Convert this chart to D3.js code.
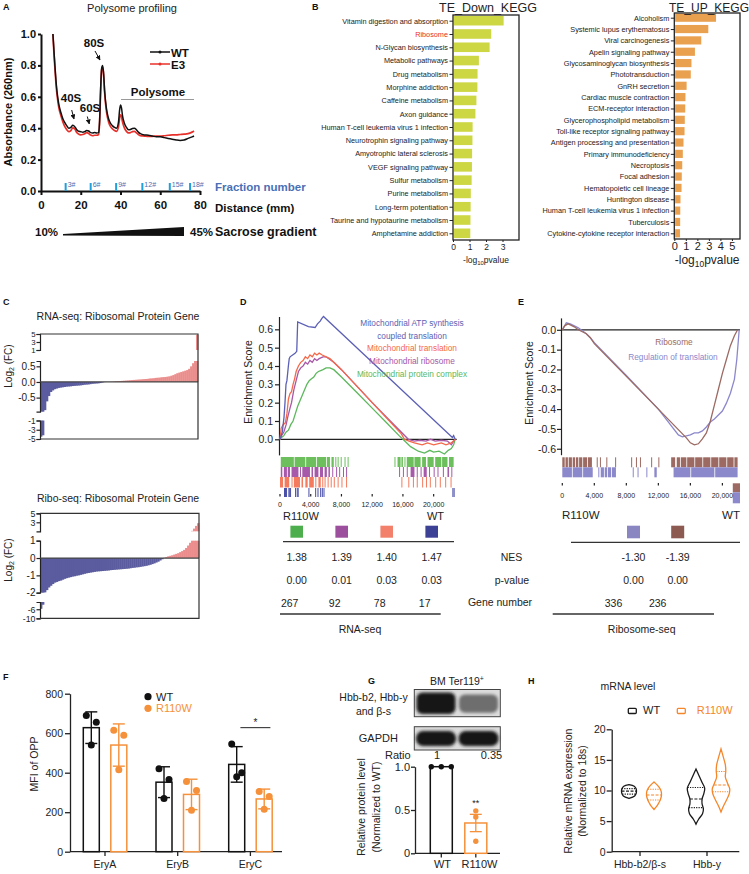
<!DOCTYPE html>
<html><head><meta charset="utf-8"><title>Figure</title>
<script src="https://cdn.jsdelivr.net/npm/d3@7/dist/d3.min.js"></script>
<style>html,body{margin:0;padding:0;background:#fff;}svg{display:block;}</style>
</head><body>
<script>
// ---------------- DATA ----------------
// A: polysome profiling
const polyDistance = [6,6.5,7,7.5,8,8.5,9,10,11,12,13,14,15,16,17,18,19,20,21,22,23,24,25,26,27,28,29,29.5,30,30.5,31,31.5,32,33,34,35,36,37,38,39,39.5,40,40.5,41,42,43,44,45,46,47,48,49,50,52,54,56,58,60,62,64,66,68,70,72,74,76,77];
const polyWT = [1.00,0.90,0.80,0.71,0.64,0.59,0.55,0.50,0.46,0.435,0.415,0.40,0.405,0.418,0.41,0.39,0.38,0.378,0.375,0.378,0.386,0.382,0.372,0.37,0.372,0.37,0.372,0.45,0.65,0.78,0.80,0.75,0.64,0.52,0.46,0.43,0.415,0.405,0.40,0.44,0.51,0.548,0.53,0.48,0.43,0.405,0.39,0.392,0.398,0.40,0.39,0.375,0.365,0.357,0.355,0.35,0.345,0.345,0.34,0.335,0.33,0.325,0.322,0.325,0.335,0.345,0.35];
const polyE3 = [1.0,0.88,0.78,0.69,0.62,0.57,0.53,0.48,0.44,0.41,0.39,0.378,0.385,0.402,0.395,0.372,0.362,0.358,0.36,0.365,0.372,0.366,0.356,0.352,0.355,0.355,0.36,0.44,0.63,0.77,0.79,0.74,0.63,0.50,0.44,0.41,0.395,0.385,0.38,0.41,0.46,0.485,0.475,0.44,0.40,0.38,0.37,0.372,0.378,0.38,0.37,0.36,0.352,0.35,0.348,0.348,0.35,0.35,0.352,0.355,0.357,0.358,0.36,0.362,0.365,0.375,0.382];
const fractionPos = [12.4,25,37.8,51,64.8,75];
const fractionLabels = ['3#','6#','9#','12#','15#','18#'];
const absTicks = [0,0.2,0.4,0.6,0.8,1.0];
const distTicks = [0,20,40,60,80];

// B: KEGG
const downTerms = ["Vitamin digestion and absorption","Ribosome","N-Glycan biosynthesis","Metabolic pathways","Drug metabolism","Morphine addiction","Caffeine metabolism","Axon guidance","Human T-cell leukemia virus 1 infection","Neurotrophin signaling pathway","Amyotrophic lateral sclerosis","VEGF signaling pathway","Sulfur metabolism","Purine metabolism","Long-term potentiation","Taurine and hypotaurine metabolism","Amphetamine addiction"];
const downVals = [3.02,2.27,2.17,1.52,1.44,1.43,1.37,1.31,1.14,1.13,1.11,1.10,1.08,1.03,1.02,1.01,1.00];
const upTerms = ["Alcoholism","Systemic lupus erythematosus","Viral carcinogenesis","Apelin signaling pathway","Glycosaminoglycan biosynthesis","Phototransduction","GnRH secretion","Cardiac muscle contraction","ECM-receptor interaction","Glycerophospholipid metabolism","Toll-like receptor signaling pathway","Antigen processing and presentation","Primary immunodeficiency","Necroptosis","Focal adhesion","Hematopoietic cell lineage","Huntington disease","Human T-cell leukemia virus 1 infection","Tuberculosis","Cytokine-cytokine receptor interaction"];
const upVals = [3.55,2.88,2.27,1.72,1.42,1.36,1.00,0.90,0.88,0.84,0.82,0.73,0.67,0.62,0.58,0.56,0.47,0.45,0.44,0.43];
const downTicks = [0,1,2,3];
const upTicks = [0,1,2,3,4,5];

// C: ribosomal protein gene log2FC (sorted)
const rnaFC = [-4.5,-4.2,-0.9,-0.62,-0.45,-0.32,-0.27,-0.23,-0.21,-0.19,-0.18,-0.17,-0.16,-0.15,-0.145,-0.14,-0.13,-0.125,-0.12,-0.115,-0.11,-0.10,-0.09,-0.085,-0.08,-0.07,-0.06,-0.055,-0.05,-0.045,-0.035,-0.02,-0.005,0,0,0,0.005,0.01,0.02,0.025,0.03,0.035,0.04,0.045,0.05,0.055,0.06,0.065,0.07,0.075,0.08,0.085,0.09,0.095,0.10,0.11,0.115,0.12,0.13,0.135,0.14,0.15,0.155,0.16,0.17,0.18,0.20,0.22,0.25,0.28,0.30,0.32,0.34,0.36,0.38,0.42,0.50,0.60,0.75,4.8];
const riboFC = [-5.8,-4.0,-1.98,-1.85,-1.7,-1.6,-1.5,-1.42,-1.38,-1.33,-1.3,-1.25,-1.2,-1.16,-1.13,-1.1,-1.07,-1.05,-1.02,-1.0,-0.97,-0.94,-0.91,-0.88,-0.86,-0.84,-0.82,-0.8,-0.78,-0.77,-0.76,-0.75,-0.74,-0.73,-0.72,-0.7,-0.69,-0.68,-0.67,-0.66,-0.65,-0.64,-0.63,-0.62,-0.61,-0.59,-0.57,-0.56,-0.54,-0.53,-0.51,-0.49,-0.47,-0.45,-0.42,-0.39,-0.35,-0.31,-0.26,-0.21,-0.14,-0.07,0.02,0.06,0.10,0.13,0.16,0.20,0.24,0.28,0.34,0.40,0.47,0.58,0.72,0.88,1.1,1.6,2.2,2.8];

// D: GSEA RNA-seq  [rank, ES]
const esATP = [[0,0],[300,0.04],[520,0.12],[650,0.2],[780,0.3],[900,0.32],[1090,0.4],[1200,0.44],[1310,0.45],[1960,0.47],[2180,0.48],[2300,0.64],[3700,0.615],[4570,0.61],[4880,0.63],[5230,0.645],[5450,0.66],[5660,0.67],[22440,0.01],[22600,0.02],[22800,0]];
const esTransl = [[0,0],[150,0.06],[400,0.08],[700,0.09],[900,0.14],[1100,0.22],[1300,0.25],[1500,0.26],[1700,0.3],[1900,0.33],[2100,0.37],[2400,0.4],[2700,0.42],[3000,0.43],[3300,0.45],[3600,0.44],[3900,0.46],[4200,0.45],[4500,0.47],[4800,0.46],[5100,0.47],[5500,0.46],[6000,0.45],[6500,0.44],[7000,0.42],[8000,0.38],[10000,0.29],[12000,0.2],[14000,0.11],[15800,0.03],[16200,0.0],[16800,-0.01],[17500,-0.02],[18500,-0.03],[19200,-0.02],[20000,-0.03],[21000,-0.02],[21600,-0.03],[22300,-0.02],[22800,0]];
const esRibo = [[0,0],[200,0.02],[500,0.04],[800,0.08],[1000,0.12],[1300,0.17],[1500,0.2],[1800,0.27],[2100,0.32],[2400,0.37],[2700,0.39],[3000,0.4],[3300,0.42],[3600,0.41],[3900,0.43],[4200,0.42],[4500,0.44],[4800,0.43],[5100,0.44],[5600,0.45],[6000,0.45],[6500,0.435],[7000,0.42],[8000,0.38],[10000,0.29],[12000,0.2],[14000,0.115],[16000,0.03],[16700,0.0],[17500,-0.01],[18200,-0.005],[19000,-0.01],[19600,0.0],[20200,-0.01],[21000,-0.005],[21800,-0.01],[22300,-0.03],[22600,-0.01],[22800,0]];
const esComplex = [[0,0],[200,0.01],[500,0.02],[800,0.04],[1100,0.05],[1400,0.08],[1700,0.1],[2000,0.14],[2300,0.18],[2600,0.21],[2900,0.24],[3200,0.27],[3500,0.3],[3800,0.32],[4100,0.33],[4400,0.34],[4700,0.36],[5000,0.37],[5300,0.375],[5600,0.38],[6000,0.39],[6500,0.39],[7000,0.38],[8000,0.34],[10000,0.255],[12000,0.17],[14000,0.085],[15500,0.02],[16000,0.0],[17000,-0.04],[18000,-0.065],[18800,-0.075],[19500,-0.06],[20000,-0.07],[20700,-0.065],[21400,-0.08],[21900,-0.06],[22300,-0.05],[22600,-0.03],[22800,0]];
// hit intervals [start, end] in rank
const hitsComplex = [[100,1800],[1900,3300],[3400,4700],[4800,6000],[6100,6500],[6700,7000],[7200,7300],[7500,7600],[7900,8000],[8400,8500],[8800,8900],[14900,14960],[15300,15700],[15800,16000],[16200,16300],[16500,17400],[17500,18300],[18500,19000],[19200,20000],[20200,21000],[21100,21800],[22000,22600]];
const hitsRibo = [[100,300],[500,900],[1000,1300],[1500,2400],[2600,2700],[2900,3900],[4100,4300],[4500,5000],[5200,5600],[5800,6100],[6300,6500],[6800,6900],[7300,7400],[7700,7800],[8200,8300],[8600,8700],[15500,15600],[16000,16100],[16500,16600],[17000,17500],[17800,17900],[18300,18400],[18700,19100],[19400,19500],[20000,20100],[20500,20600],[21200,21300],[21800,22000],[22300,22400]];
const hitsTransl = [[0,400],[600,1200],[1500,1600],[1800,2600],[2800,3000],[3300,3600],[3800,4400],[4600,4700],[5000,5300],[5500,5600],[5800,5900],[6200,6300],[6600,6700],[7000,7100],[7500,7600],[8000,8100],[8600,8700],[15800,15900],[16700,16800],[17300,17400],[17800,17900],[18500,18600],[19000,19100],[19500,19600],[20200,20300],[20800,20900],[21500,21600],[22200,22300]];
const hitsATP = [[523,560],[650,690],[784,820],[1090,1130],[1200,1240],[1307,1345],[1960,2000],[2178,2215],[2300,2340],[3700,3740],[4574,4610],[4880,4920],[5227,5265],[5445,5480],[5662,5700],[22440,22480],[22600,22640]];
const rankTicksD = [0,4000,8000,12000,16000,20000];

// E: GSEA Ribosome-seq
const esRiboE = [[0,0],[300,0.02],[700,0.03],[1000,0.025],[1500,0.015],[2000,0.0],[2500,-0.01],[3000,-0.02],[3500,-0.04],[4000,-0.07],[8000,-0.235],[12000,-0.4],[15500,-0.545],[16000,-0.57],[16500,-0.58],[17000,-0.575],[17500,-0.55],[18000,-0.52],[18500,-0.46],[19000,-0.38],[19500,-0.3],[20000,-0.22],[20500,-0.15],[21000,-0.08],[21500,-0.03],[21900,0.0]];
const esRegE = [[0,0],[500,0.035],[1000,0.03],[1500,0.02],[2000,0.01],[2500,-0.005],[3000,-0.02],[3500,-0.04],[4000,-0.065],[8000,-0.23],[12000,-0.4],[14500,-0.53],[15000,-0.54],[15500,-0.535],[16000,-0.53],[16500,-0.52],[17000,-0.52],[17500,-0.51],[18000,-0.49],[18500,-0.465],[19000,-0.45],[19500,-0.43],[20000,-0.41],[20500,-0.37],[21000,-0.32],[21500,-0.25],[21800,-0.15],[22000,-0.05],[22100,0]];
const hitsRiboE = [[0,300],[400,700],[800,1200],[1300,1600],[1700,2000],[2100,2500],[2600,3100],[3200,3700],[4300,4400],[4700,4800],[5500,5600],[6600,6700],[8600,8700],[9200,9300],[9700,9800],[11100,11200],[12000,12100],[13600,14100],[14300,14700],[14800,15500],[15600,16500],[16600,17500],[17600,18500],[18600,19500],[19600,20500],[20600,21400],[21500,21900]];
const hitsRegE = [[0,1200],[1300,2500],[2600,3800],[4500,4600],[4800,5200],[5300,5600],[5700,6100],[6200,6700],[8800,8900],[9400,9500],[10500,10600],[11500,11800],[13900,16000],[16100,19000],[19100,21900]];
const hitsTailE = [[21300,22200]];
const rankTicksE = [0,4000,8000,12000,16000,20000];

// table
const rnaSets = ['Mitochondrial protein complex','Mitochondrial ribosome','Mitochondrial translation','Mitochondrial ATP synthesis coupled translation'];
const rnaNES = [1.38,1.39,1.40,1.47];
const rnaP = [0.00,0.01,0.03,0.03];
const rnaGenes = [267,92,78,17];
const riboSets = ['Regulation of translation','Ribosome'];
const riboNES = [-1.30,-1.39];
const riboP = [0.00,0.00];
const riboGenes = [336,236];

// F: OPP MFI
const eryGroups = ['EryA','EryB','EryC'];
const fWTmean = [628,352,442];
const fWTsd = [80,78,90];
const fWTpts = [[690,655,540],[420,365,270],[545,400,380]];
const fMUTmean = [540,290,267];
const fMUTsd = [107,77,50];
const fMUTpts = [[615,590,415],[355,310,210],[305,280,215]];
const fTicks = [0,200,400,600,800];

// G: western blot
const gGroups = ['WT','R110W'];
const gRatio = [1,0.35];
const gMean = [1.0,0.35];
const gSD = [0,0.1];
const gPts = [[1,1,1],[0.49,0.42,0.14]];
const gTicks = [0,0.5,1.0];

// H: mRNA violins  [value, relative density]
const hGenes = ['Hbb-b2/β-s','Hbb-y'];
const hViolinWT = [
  [[8.7,0],[9.1,0.65],[9.5,0.82],[9.9,0.86],[10.3,0.82],[10.7,0.6],[10.95,0]],
  [[4.5,0],[5.3,0.3],[6.2,0.75],[7.0,0.85],[7.8,0.7],[8.6,0.7],[9.5,0.9],[10.4,1],[11.3,0.7],[12.4,0.35],[13.5,0]]
];
const hViolinMUT = [
  [[6.9,0],[7.4,0.3],[7.9,0.52],[8.5,0.73],[9.2,0.86],[9.9,0.82],[10.5,0.6],[11.0,0.3],[11.4,0]],
  [[6.5,0],[7.5,0.3],[8.5,0.65],[9.5,0.95],[10.3,1],[11.2,0.75],[12.2,0.5],[13.2,0.55],[14.2,0.5],[15.3,0.3],[16.8,0]]
];
const hQuartWT = [[9.4,9.9,10.3],[7.2,8.6,10.5]];
const hQuartMUT = [[8.45,9.27,10.2],[9.8,10.9,13.1]];
const hTicks = [0,5,10,15,20];

// ---------------- DRAWING ----------------
const FONT = '"Liberation Sans", Arial, Helvetica, sans-serif';
const INK = '#222';
const svg = d3.select('body').append('svg').attr('width',749).attr('height',874).attr('font-family',FONT);
svg.append('rect').attr('width',749).attr('height',874).attr('fill','#fff');
const defs = svg.append('defs');
defs.append('marker').attr('id','arr').attr('viewBox','0 0 10 10').attr('refX',9).attr('refY',5)
  .attr('markerWidth',5).attr('markerHeight',5).attr('orient','auto')
  .append('path').attr('d','M0,0L10,5L0,10z').attr('fill','#111');
defs.append('filter').attr('id','blur').attr('x','-30%').attr('y','-60%').attr('width','160%').attr('height','220%')
  .append('feGaussianBlur').attr('stdDeviation',1.8);

function T(g,x,y,s,o={}){
  const t=g.append('text').attr('x',x).attr('y',y).attr('font-size',o.size||10)
    .attr('fill',o.fill||INK).attr('text-anchor',o.anchor||'start')
    .attr('font-weight',o.weight||'normal');
  if(o.rot) t.attr('transform',`rotate(-90 ${x} ${y})`);
  if(s!=null) t.text(s);
  return t;
}
function axisStyle(sel,o={}){
  sel.attr('font-family',FONT).attr('font-size',o.size||10).attr('font-weight',o.weight||'normal');
  sel.selectAll('path,line').attr('stroke',o.color||INK).attr('stroke-width',o.sw||1);
  sel.selectAll('text').attr('fill',o.color||INK);
  return sel;
}
function subLabel(g,x,y,pre,sub,post,o){
  const t=T(g,x,y,null,o);
  t.append('tspan').text(pre);
  t.append('tspan').text(sub).attr('font-size',(o.size||10)*0.7).attr('dy',o.size*0.25);
  t.append('tspan').text(post).attr('dy',-o.size*0.25);
  return t;
}

// panel letters
[['A',3,10],['B',312,10],['C',3,305],['D',240,305],['E',518,305],['F',3,680],['G',368,684],['H',528,684]]
  .forEach(([s,x,y])=>T(svg,x,y,s,{size:9,weight:'bold',fill:'#111'}));

// ===== A =====
(function(){
  const g=svg.append('g');
  const ax=d3.scaleLinear().domain([0,80]).range([41,200]);
  const ay=d3.scaleLinear().domain([0,1]).range([191,34]);
  T(g,132,12,'Polysome profiling',{size:11,anchor:'middle'});
  axisStyle(g.append('g').attr('transform','translate(0,191)')
    .call(d3.axisBottom(ax).tickValues(distTicks).tickSize(4).tickSizeOuter(0).tickPadding(6)),{size:11.5,weight:'bold',sw:2,color:'#111'});
  axisStyle(g.append('g').attr('transform','translate(41,0)')
    .call(d3.axisLeft(ay).tickValues(absTicks).tickFormat(d=>d.toFixed(1)).tickSize(3).tickSizeOuter(0).tickPadding(2)),{size:11,weight:'bold',sw:2,color:'#111'});
  T(g,12,112,'Absorbance (260nm)',{size:11,weight:'bold',anchor:'middle',rot:true,fill:'#111'});
  g.selectAll('.fr').data(fractionPos).join('line').attr('x1',d=>ax(d)).attr('x2',d=>ax(d))
    .attr('y1',183).attr('y2',191).attr('stroke','#1fa0dc').attr('stroke-width',2);
  g.selectAll('.frl').data(fractionLabels).join('text').attr('x',(d,i)=>ax(fractionPos[i])+2).attr('y',187)
    .text(d=>d).attr('font-size',7).attr('fill','#4a6fb5');
  T(g,215,191,'Fraction number',{size:11.5,weight:'bold',fill:'#4a6fb5'});
  T(g,215,212,'Distance (mm)',{size:11.5,weight:'bold',fill:'#111'});
  const line=d3.line().x((d,i)=>ax(polyDistance[i])).y(d=>ay(d)).curve(d3.curveMonotoneX);
  g.append('path').attr('d',line(polyE3)).attr('fill','none').attr('stroke','#e8302a').attr('stroke-width',1.7);
  g.append('path').attr('d',line(polyWT)).attr('fill','none').attr('stroke','#111').attr('stroke-width',1.5);
  [['WT','#111',52],['E3','#e8302a',64]].forEach(([s,c,y])=>{
    g.append('line').attr('x1',150).attr('x2',170).attr('y1',y).attr('y2',y).attr('stroke',c).attr('stroke-width',1.5);
    g.append('circle').attr('cx',160).attr('cy',y).attr('r',1.5).attr('fill',c);
    T(g,171,y+4.5,s,{size:11.5,weight:'bold',fill:'#111'});
  });
  T(g,94,47,'80S',{size:11.5,weight:'bold',anchor:'middle',fill:'#111'});
  g.append('line').attr('x1',95).attr('y1',51).attr('x2',100).attr('y2',60).attr('stroke','#111').attr('marker-end','url(#arr)');
  T(g,71,102,'40S',{size:11.5,weight:'bold',anchor:'middle',fill:'#111'});
  g.append('line').attr('x1',71.7).attr('y1',110).attr('x2',74).attr('y2',119).attr('stroke','#111').attr('marker-end','url(#arr)');
  T(g,90,112,'60S',{size:11.5,weight:'bold',anchor:'middle',fill:'#111'});
  g.append('line').attr('x1',87.3).attr('y1',116.5).attr('x2',89.3).attr('y2',124).attr('stroke','#111').attr('marker-end','url(#arr)');
  T(g,158,96,'Polysome',{size:11.5,weight:'bold',anchor:'middle',fill:'#111'});
  g.append('line').attr('x1',121).attr('x2',194).attr('y1',99.5).attr('y2',99.5).attr('stroke','#999').attr('stroke-width',1);
  T(g,35,236,'10%',{size:11.5,weight:'bold',fill:'#111'});
  g.append('path').attr('d','M63,234L184,227L184,236L63,235.5Z').attr('fill','#111');
  T(g,190,236,'45%',{size:11.5,weight:'bold',fill:'#111'});
  T(g,215,236,'Sacrose gradient',{size:12.5,weight:'bold',fill:'#111'});
})();

// ===== B =====
function kegg(terms,vals,c){
  const g=svg.append('g');
  const x=d3.scaleLinear().domain([0,c.xmax]).range([c.x0,c.x1]);
  const y=d3.scalePoint().domain(terms).range([c.yc0,c.yc1]);
  const bh=y.step()*0.72;
  g.selectAll(null).data(terms).join('rect').attr('x',x(0)+0.8).attr('y',d=>y(d)-bh/2)
    .attr('width',(d,i)=>x(vals[i])-x(0)).attr('height',bh).attr('fill',c.color);
  g.append('rect').attr('x',c.x0).attr('y',c.top).attr('width',c.x1-c.x0).attr('height',c.bottom-c.top)
    .attr('fill','none').attr('stroke','#222').attr('stroke-width',1.3);
  const ya=g.append('g').attr('transform',`translate(${c.x0},0)`).call(d3.axisLeft(y).tickSize(3.5).tickPadding(1.5));
  ya.select('.domain').remove();
  axisStyle(ya,{size:c.labSize,color:'#222'});
  ya.selectAll('text').attr('fill',d=>d==='Ribosome'&&c.highlight?'#e8302a':'#222');
  const xa=g.append('g').attr('transform',`translate(0,${c.bottom})`)
    .call(d3.axisBottom(x).tickValues(c.ticks).tickFormat(d3.format('d')).tickSize(2).tickSizeOuter(0).tickPadding(1.5));
  xa.select('.domain').remove();
  axisStyle(xa,{size:c.tickSize});
  T(g,c.titleX,12,c.title,{size:c.titleSize,anchor:'middle'});
  subLabel(g,(c.x0+c.x1)/2,c.labY,'-log','10','pvalue',{size:c.axSize,anchor:'middle'});
}
kegg(downTerms,downVals,{xmax:4,x0:453,x1:519,yc0:20.7,yc1:233.3,top:15,bottom:240,color:'#cdd643',labSize:7.3,
  ticks:downTicks,tickSize:8.5,axSize:8.5,labY:263,title:'TE_Down_KEGG',titleX:488,titleSize:12.5,highlight:true});
kegg(upTerms,upVals,{xmax:5.7,x0:674.3,x1:740,yc0:17.7,yc1:233.3,top:13,bottom:239,color:'#e9a14f',labSize:7.3,
  ticks:upTicks,tickSize:11,axSize:12,labY:264,title:'TE_UP_KEGG',titleX:709,titleSize:12,highlight:false});

// ===== C =====
function broken(vals,c){
  const g=svg.append('g');
  const xb=d3.scaleBand().domain(d3.range(vals.length)).range([c.x0,c.x1]).padding(0);
  c.segs.forEach(s=>{
    const y=d3.scaleLinear().domain(s.domain).range(s.range);
    const [lo,hi]=s.domain;
    const bars=vals.map((v,i)=>{
      let a,b;
      if(lo<0&&hi>0){a=0;b=Math.max(lo,Math.min(hi,v));}
      else if(lo>=0){if(v<=lo)return null;a=lo;b=Math.min(v,hi);}
      else{if(v>=hi)return null;a=hi;b=Math.max(v,lo);}
      return {i,v,a,b};
    }).filter(d=>d&&d.a!==d.b);
    g.selectAll(null).data(bars).join('rect').attr('x',d=>xb(d.i)).attr('width',xb.bandwidth()+0.4)
      .attr('y',d=>Math.min(y(d.a),y(d.b))).attr('height',d=>Math.abs(y(d.a)-y(d.b)))
      .attr('fill',d=>d.v<0?c.neg:c.pos);
    axisStyle(g.append('g').attr('transform',`translate(${c.x0},0)`)
      .call(d3.axisLeft(y).tickValues(s.ticks).tickFormat((d,i)=>s.labels[i]).tickSize(3.5).tickSizeOuter(3.5).tickPadding(1)),
      {size:s.fs||10,sw:1.2});
  });
  const mid=c.segs[1];const ym=d3.scaleLinear().domain(mid.domain).range(mid.range);
  g.append('line').attr('x1',c.x0).attr('x2',c.x1).attr('y1',ym(0)).attr('y2',ym(0)).attr('stroke','#444').attr('stroke-width',1.2);
  g.append('path').attr('d',`M${c.x0},${c.top}H${c.x1}V${c.bottom}H${c.x0}`).attr('fill','none').attr('stroke','#333').attr('stroke-width',1.2);
  T(g,118,c.titleY,c.title,{size:10.5,anchor:'middle'});
  subLabel(g,11.5,c.labY,'Log','2',' (FC)',{size:10,anchor:'middle',rot:true});
}
broken(rnaFC,{x0:40,x1:198,top:334,bottom:439,neg:'#5a5c9f',pos:'#ea8d8c',title:'RNA-seq: Ribosomal Protein Gene',titleY:320,labY:366,
  segs:[{domain:[1,5],range:[350,334],ticks:[1,3,5],labels:['1','3','5'],fs:7.8},
        {domain:[-0.95,0.67],range:[411.7,361],ticks:[-0.5,0,0.5],labels:['-0.5','0.0','0.5']},
        {domain:[-5,-1],range:[439,420.5],ticks:[-5,-3,-1],labels:['-5','-3','-1'],fs:8.2}]});
broken(riboFC,{x0:40,x1:199,top:513.3,bottom:618.3,neg:'#5a5c9f',pos:'#ea8d8c',title:'Ribo-seq: Ribosomal Protein Gene',titleY:502,labY:560,
  segs:[{domain:[1,5],range:[531.3,513.3],ticks:[3,5],labels:['3','5'],fs:8.8},
        {domain:[-2,1],range:[592.7,540.7],ticks:[-2,-1,0,1],labels:['-2','-1','0','1']},
        {domain:[-10,-2.8],range:[618.3,602],ticks:[-10,-6],labels:['-10','-6'],fs:8.8}]});

// ===== D =====
(function(){
  const g=svg.append('g');
  const x=d3.scaleLinear().domain([0,23000]).range([280,456.7]);
  const y=d3.scaleLinear().domain([-0.085,0.67]).range([454.9,316.5]);
  axisStyle(g.append('g').attr('transform','translate(279,0)')
    .call(d3.axisLeft(y).tickValues([0,0.1,0.2,0.3,0.4,0.5,0.6]).tickFormat(d=>d.toFixed(1)).tickSize(4).tickSizeOuter(0).tickPadding(2)),{size:10.5,sw:1.2});
  g.append('line').attr('x1',279).attr('x2',456.7).attr('y1',y(0)).attr('y2',y(0)).attr('stroke','#222').attr('stroke-width',1.2);
  T(g,252,382,'Enrichment Score',{size:10.5,anchor:'middle',rot:true});
  const sets=[[esComplex,'#5cb85c'],[esRibo,'#a757a6'],[esTransl,'#f5694a'],[esATP,'#5b5fb5']];
  const ln=d3.line().x(d=>x(d[0])).y(d=>y(d[1]));
  sets.forEach(([d,c])=>g.append('path').attr('d',ln(d)).attr('fill','none').attr('stroke',c).attr('stroke-width',1.3));
  const rows=[[hitsComplex,'#6cbf5c',457,467],[hitsRibo,'#a65aa9',467,477],[hitsTransl,'#f47b5e',477,487.5],[hitsATP,'#4a4fa8',488,497]];
  rows.forEach(([h,c,y0,y1])=>g.selectAll(null).data(h).join('rect').attr('x',d=>x(d[0])).attr('width',d=>Math.max(1,x(d[1])-x(d[0])))
    .attr('y',y0).attr('height',y1-y0).attr('fill',c));
  g.selectAll(null).data(rankTicksD).join('line').attr('x1',d=>x(d)).attr('x2',d=>x(d)).attr('y1',494).attr('y2',496.5).attr('stroke','#222').attr('stroke-width',1.2);
  g.selectAll(null).data(rankTicksD).join('text').attr('x',d=>x(d)).attr('y',507).attr('text-anchor','middle')
    .attr('font-size',7).attr('fill','#222').text(d=>d3.format(',')(d));
  [['Mitochondrial ATP synthesis','#5b5fb5',326],['coupled translation','#5b5fb5',339],['Mitochondrial translation','#f5694a',350.7],
   ['Mitochondrial ribosome','#a757a6',364],['Mitochondrial protein complex','#5cb85c',377.3]]
   .forEach(([s,c,yy])=>T(g,412,yy,s,{size:8.3,anchor:'middle',fill:c}));
  T(g,283,520,'R110W',{size:11});
  T(g,444,520,'WT',{size:11,anchor:'end'});
})();

// ===== E =====
(function(){
  const g=svg.append('g');
  const x=d3.scaleLinear().domain([0,22200]).range([562.3,740]);
  const y=d3.scaleLinear().domain([-0.63,0.06]).range([454.7,317.9]);
  axisStyle(g.append('g').attr('transform','translate(561,0)')
    .call(d3.axisLeft(y).tickValues([0,-0.1,-0.2,-0.3,-0.4,-0.5,-0.6]).tickFormat(d=>d.toFixed(1)).tickSize(4).tickSizeOuter(0).tickPadding(1)),{size:10.5,sw:1.2});
  g.append('line').attr('x1',561).attr('x2',740).attr('y1',y(0)).attr('y2',y(0)).attr('stroke','#222').attr('stroke-width',1.2);
  T(g,533,383,'Enrichment Score',{size:10.5,anchor:'middle',rot:true});
  const ln=d3.line().x(d=>x(d[0])).y(d=>y(d[1]));
  g.append('path').attr('d',ln(esRegE)).attr('fill','none').attr('stroke','#8c88cc').attr('stroke-width',1.3);
  g.append('path').attr('d',ln(esRiboE)).attr('fill','none').attr('stroke','#9c6a62').attr('stroke-width',1.3);
  const rows=[[hitsRiboE,'#9c6a62',457.3,467.3],[hitsRegE,'#8c88cc',467.3,477.3],[hitsTailE,'#9c6a62',483.3,492.3],[hitsTailE,'#8c88cc',492.3,503.3]];
  rows.forEach(([h,c,y0,y1])=>g.selectAll(null).data(h).join('rect').attr('x',d=>x(d[0])).attr('width',d=>Math.max(1,x(d[1])-x(d[0])))
    .attr('y',y0).attr('height',y1-y0).attr('fill',c));
  g.selectAll(null).data(rankTicksE).join('line').attr('x1',d=>x(d)).attr('x2',d=>x(d)).attr('y1',483).attr('y2',485.5).attr('stroke','#222').attr('stroke-width',1.2);
  g.selectAll(null).data(rankTicksE).join('text').attr('x',d=>x(d)).attr('y',498).attr('text-anchor','middle')
    .attr('font-size',7).attr('fill','#222').text(d=>d3.format(',')(d));
  T(g,674,344.5,'Ribosome',{size:8.3,anchor:'middle',fill:'#9c6a62'});
  T(g,673,359.5,'Regulation of translation',{size:8.3,anchor:'middle',fill:'#8c88cc'});
  T(g,562,519,'R110W',{size:11.5});
  T(g,740,519,'WT',{size:11.5,anchor:'end'});
})();

// ===== table =====
(function(){
  const g=svg.append('g');
  const rc=d3.scalePoint().domain(rnaSets).range([296.7,431.7]);
  const bc=d3.scalePoint().domain(riboSets).range([633.5,677.7]);
  const rCol={'Mitochondrial protein complex':'#4cae4c','Mitochondrial ribosome':'#9c4f9c','Mitochondrial translation':'#f2806a','Mitochondrial ATP synthesis coupled translation':'#3d4196'};
  const bCol={'Regulation of translation':'#8a86c2','Ribosome':'#8d5a52'};
  rnaSets.forEach((s,i)=>{
    g.append('rect').attr('x',rc(s)-6.3).attr('y',525.7).attr('width',12.6).attr('height',12).attr('fill',rCol[s]);
    T(g,rc(s),561,rnaNES[i].toFixed(2),{size:10.5,anchor:'middle'});
    T(g,rc(s),583.5,rnaP[i].toFixed(2),{size:10.5,anchor:'middle'});
    T(g,rc(s)-7,607,String(rnaGenes[i]),{size:10.5,anchor:'middle'});
  });
  riboSets.forEach((s,i)=>{
    g.append('rect').attr('x',bc(s)-6.5).attr('y',525.7).attr('width',13).attr('height',12.6).attr('fill',bCol[s]);
    T(g,bc(s),561,riboNES[i].toFixed(2),{size:10.5,anchor:'middle'});
    T(g,bc(s),583.5,riboP[i].toFixed(2),{size:10.5,anchor:'middle'});
    T(g,bc(s)-20,607,String(riboGenes[i]),{size:10.5,anchor:'middle'});
  });
  g.append('line').attr('x1',283).attr('x2',454).attr('y1',541.7).attr('y2',541.7).attr('stroke','#333').attr('stroke-width',1.3);
  g.append('line').attr('x1',571).attr('x2',740).attr('y1',542.3).attr('y2',542.3).attr('stroke','#333').attr('stroke-width',1.3);
  g.append('line').attr('x1',280).attr('x2',440.7).attr('y1',614).attr('y2',614).attr('stroke','#333').attr('stroke-width',1.3);
  g.append('line').attr('x1',552.7).attr('x2',714).attr('y1',614).attr('y2',614).attr('stroke','#333').attr('stroke-width',1.3);
  T(g,511.5,561,'NES',{size:10.5,anchor:'middle'});
  T(g,512,583.5,'p-value',{size:10.5,anchor:'middle'});
  T(g,500,606,'Gene number',{size:10.5,anchor:'middle'});
  T(g,360,633,'RNA-seq',{size:10.5,anchor:'middle'});
  T(g,641.7,633,'Ribosome-seq',{size:10.5,anchor:'middle'});
})();

// ===== F =====
(function(){
  const g=svg.append('g');
  const y=d3.scaleLinear().domain([0,800]).range([851.7,693.7]);
  const x=d3.scalePoint().domain(eryGroups).range([105,250.4]);
  axisStyle(g.append('g').attr('transform','translate(70,0)')
    .call(d3.axisLeft(y).tickValues(fTicks).tickSize(5).tickSizeOuter(0).tickPadding(2)),{size:10.5,sw:1.3});
  g.append('line').attr('x1',70).attr('x2',282).attr('y1',851.7).attr('y2',851.7).attr('stroke','#222').attr('stroke-width',1.3);
  eryGroups.forEach(grp=>{
    g.append('line').attr('x1',x(grp)).attr('x2',x(grp)).attr('y1',851.7).attr('y2',856).attr('stroke','#222').attr('stroke-width',1.3);
    T(g,x(grp),868,grp,{size:10.5,anchor:'middle'});
  });
  const series=[{m:fWTmean,sd:fWTsd,p:fWTpts,c:'#111',off:-13.7},{m:fMUTmean,sd:fMUTsd,p:fMUTpts,c:'#f5913a',off:13.8}];
  const jitter=[-5,5,0];
  series.forEach(s=>{
    eryGroups.forEach((grp,i)=>{
      const cx=x(grp)+s.off;
      g.append('rect').attr('x',cx-8).attr('y',y(s.m[i])).attr('width',16).attr('height',851.7-y(s.m[i]))
        .attr('fill','#fff').attr('stroke',s.c).attr('stroke-width',1.5);
      const t=y(s.m[i]+s.sd[i]),b=y(s.m[i]-s.sd[i]);
      g.append('line').attr('x1',cx).attr('x2',cx).attr('y1',t).attr('y2',b).attr('stroke',s.c).attr('stroke-width',1.4);
      [t,b].forEach(yy=>g.append('line').attr('x1',cx-6).attr('x2',cx+6).attr('y1',yy).attr('y2',yy).attr('stroke',s.c).attr('stroke-width',1.4));
      s.p[i].forEach((v,j)=>g.append('circle').attr('cx',cx+jitter[j]).attr('cy',y(v)).attr('r',3.5).attr('fill',s.c));
    });
  });
  const sx=x('EryC');
  g.append('line').attr('x1',sx-10).attr('x2',sx+20).attr('y1',y(628)).attr('y2',y(628)).attr('stroke','#222').attr('stroke-width',1);
  T(g,sx+5,y(628)-2,'*',{size:10,anchor:'middle'});
  T(g,38,764,'MFI of OPP',{size:10.5,anchor:'middle',rot:true});
  g.append('circle').attr('cx',148).attr('cy',696.7).attr('r',3.6).attr('fill','#111');
  T(g,156,700.5,'WT',{size:11});
  g.append('circle').attr('cx',148).attr('cy',708.3).attr('r',3.6).attr('fill','#f5913a');
  T(g,156,712,'R110W',{size:11,fill:'#f5913a'});
})();

// ===== G =====
(function(){
  const g=svg.append('g');
  T(g,457,685,null,{size:10.5,anchor:'middle'}).call(t=>{t.append('tspan').text('BM Ter119');t.append('tspan').text('+').attr('font-size',7).attr('dy',-4);});
  g.append('rect').attr('x',414.3).attr('y',689.5).attr('width',86).attr('height',27.2).attr('fill','#dcdcdc').attr('stroke','#444').attr('stroke-width',1);
  g.append('rect').attr('x',414.3).attr('y',726.7).attr('width',86).attr('height',23.3).attr('fill','#dcdcdc').attr('stroke','#444').attr('stroke-width',1);
  const bx=d3.scalePoint().domain(gGroups).range([436,478.5]);
  const shade=d3.interpolateRgb('#d8d8d8','#161616');
  gGroups.forEach((grp,i)=>{
    g.append('rect').attr('x',bx(grp)-19.5).attr('y',692.5+(1-gRatio[i])*3).attr('width',39).attr('height',21.5-(1-gRatio[i])*5)
      .attr('rx',6).attr('fill',shade(0.3+0.7*gRatio[i])).attr('filter','url(#blur)');
    g.append('rect').attr('x',bx(grp)-20).attr('y',731).attr('width',40).attr('height',15).attr('rx',7).attr('fill','#161616').attr('filter','url(#blur)');
  });
  T(g,373.5,701,'Hbb-b2, Hbb-y',{size:10.5,anchor:'middle'});
  T(g,373.5,715,'and β-s',{size:10.5,anchor:'middle'});
  T(g,378.3,741.5,'GAPDH',{size:11,anchor:'middle'});
  T(g,385,758.5,'Ratio',{size:11});
  gGroups.forEach((grp,i)=>T(g,bx(grp)+(i?13:1),758.5,String(gRatio[i]),{size:11,anchor:'middle'}));
  const y=d3.scaleLinear().domain([0,1]).range([853.3,766.7]);
  const x=d3.scalePoint().domain(gGroups).range([441.3,475.8]);
  axisStyle(g.append('g').attr('transform','translate(415,0)')
    .call(d3.axisLeft(y).tickValues(gTicks).tickFormat(d=>d===0?'0':d.toFixed(1)).tickSize(4).tickSizeOuter(0).tickPadding(1)),{size:11,sw:1.3});
  g.append('line').attr('x1',415).attr('x2',500).attr('y1',853.3).attr('y2',853.3).attr('stroke','#222').attr('stroke-width',1.3);
  const cols=['#111','#f5913a'];
  const jit=[[-10,0,10],[0,0,0]];
  gGroups.forEach((grp,i)=>{
    const cx=x(grp);
    g.append('line').attr('x1',cx).attr('x2',cx).attr('y1',853.3).attr('y2',857.5).attr('stroke','#222').attr('stroke-width',1.3);
    g.append('rect').attr('x',cx-11).attr('y',y(gMean[i])).attr('width',22).attr('height',853.3-y(gMean[i]))
      .attr('fill','#fff').attr('stroke',cols[i]).attr('stroke-width',1.5);
    if(gSD[i]>0){
      const t=y(gMean[i]+gSD[i]),b=y(gMean[i]-gSD[i]);
      g.append('line').attr('x1',cx).attr('x2',cx).attr('y1',t).attr('y2',b).attr('stroke',cols[i]).attr('stroke-width',1.3);
      [t,b].forEach(yy=>g.append('line').attr('x1',cx-6).attr('x2',cx+6).attr('y1',yy).attr('y2',yy).attr('stroke',cols[i]).attr('stroke-width',1.3));
    }
    gPts[i].forEach((v,j)=>g.append('circle').attr('cx',cx+jit[i][j]).attr('cy',y(v)).attr('r',2.7).attr('fill',cols[i]));
    T(g,cx+(i?3.7:1.2),868,grp,{size:11,anchor:'middle'});
  });
  T(g,x('R110W'),806,'**',{size:9,anchor:'middle'});
  T(g,365,807,'Relative protein level',{size:10.5,anchor:'middle',rot:true});
  T(g,380,807,'(Normalized to WT)',{size:10.5,anchor:'middle',rot:true});
})();

// ===== H =====
(function(){
  const g=svg.append('g');
  T(g,628,690,'mRNA level',{size:10.5,anchor:'middle'});
  const y=d3.scaleLinear().domain([0,20]).range([851.7,729.3]);
  const x=d3.scalePoint().domain(hGenes).range([640,707]);
  axisStyle(g.append('g').attr('transform','translate(611.7,0)')
    .call(d3.axisLeft(y).tickValues(hTicks).tickSize(5).tickSizeOuter(0).tickPadding(1)),{size:10.5,sw:1.3});
  g.append('line').attr('x1',611.7).attr('x2',739.3).attr('y1',851.7).attr('y2',851.7).attr('stroke','#222').attr('stroke-width',1.3);
  hGenes.forEach(h=>{
    g.append('line').attr('x1',x(h)).attr('x2',x(h)).attr('y1',851.7).attr('y2',856).attr('stroke','#222').attr('stroke-width',1.3);
    T(g,x(h),868,h,{size:10.5,anchor:'middle'});
  });
  const HW=8.7;
  function dens(arr,v){for(let k=1;k<arr.length;k++){if(v<=arr[k][0]){const [a,da]=arr[k-1],[b,db]=arr[k];return da+(db-da)*(v-a)/(b-a);}}return 0;}
  const groups=[{v:hViolinWT,q:hQuartWT,c:'#1a1a1a',off:-11},{v:hViolinMUT,q:hQuartMUT,c:'#f5862a',off:14}];
  groups.forEach(s=>{
    hGenes.forEach((h,i)=>{
      const cx=x(h)+s.off, arr=s.v[i];
      const area=d3.area().y(d=>y(d[0])).x0(d=>cx-HW*d[1]).x1(d=>cx+HW*d[1]).curve(d3.curveCatmullRom);
      g.append('path').attr('d',area(arr)).attr('fill','#fff').attr('stroke',s.c).attr('stroke-width',1.3);
      s.q[i].forEach((qv,k)=>{
        const w=HW*dens(arr,qv);
        g.append('line').attr('x1',cx-w).attr('x2',cx+w).attr('y1',y(qv)).attr('y2',y(qv)).attr('stroke',s.c)
          .attr('stroke-width',1.1).attr('stroke-dasharray',k===1?'3,1.5':'1.2,1.2');
      });
    });
  });
  g.append('rect').attr('x',628.3).attr('y',708.3).attr('width',8).attr('height',5.2).attr('rx',1).attr('fill','#fff').attr('stroke','#1a1a1a').attr('stroke-width',1.3);
  T(g,643,714,'WT',{size:11});
  g.append('rect').attr('x',677.3).attr('y',708.3).attr('width',8).attr('height',5.2).attr('rx',1).attr('fill','#fff').attr('stroke','#f5862a').attr('stroke-width',1.3);
  T(g,696.7,714,'R110W',{size:11,fill:'#f5862a'});
  T(g,571.7,791,'Relative mRNA expression',{size:10.5,anchor:'middle',rot:true});
  T(g,586,791,'(Normalized to 18s)',{size:10.5,anchor:'middle',rot:true});
})();
</script></body></html>
